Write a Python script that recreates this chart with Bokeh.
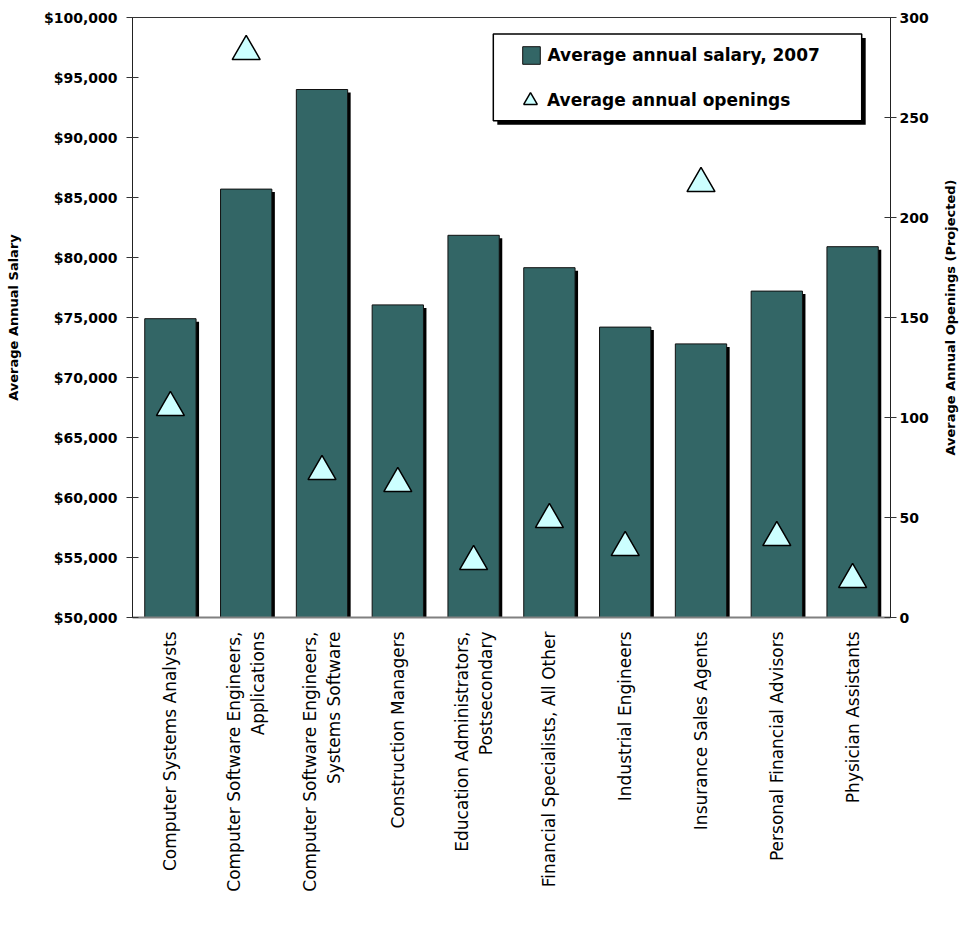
import math
from bokeh.plotting import figure
from bokeh.layouts import row
from bokeh.models import (FactorRange, Range1d, LinearAxis, NumeralTickFormatter,
                          SingleIntervalTicker, ColumnDataSource, Legend, LegendItem,
                          BoxAnnotation)
from bokeh.core.properties import value
from bokeh.transform import dodge
from bokeh.embed import file_html
from bokeh.resources import INLINE

# ---------------- data ----------------
occupations = [
    "Computer Systems Analysts",
    "Computer Software Engineers,\nApplications",
    "Computer Software Engineers,\nSystems Software",
    "Construction Managers",
    "Education Administrators,\nPostsecondary",
    "Financial Specialists, All Other",
    "Industrial Engineers",
    "Insurance Sales Agents",
    "Personal Financial Advisors",
    "Physician Assistants",
]
salary_2007 = [74900, 85700, 94000, 76050, 81850, 79150, 74200, 72800, 77200, 80900]
annual_openings = [105, 283, 73, 67, 28, 49, 35, 217, 40, 19]

salary_ticks_step = 5000
openings_ticks_step = 50
left_title = "Average Annual Salary"
right_title = "Average Annual Openings (Projected)"

# ---------------- styling ----------------
BAR_COLOR = "#336666"
TRI_COLOR = "#CCFFFF"
FONT = "DejaVu Sans"
SHADOW_PX = 3
FRAME_W = 758
BAR_WIDTH = 0.677
MAIN_W, SIDE_W, H = 939, 27, 927
TOP, BOTTOM = 17, 310

src = ColumnDataSource(dict(
    occ=occupations,
    salary=salary_2007,
    shadow_top=[s - SHADOW_PX * 50000 / 600 for s in salary_2007],
    openings=annual_openings,
))

p = figure(
    x_range=FactorRange(factors=occupations, range_padding=0),
    y_range=Range1d(50000, 100000),
    width=MAIN_W, height=H,
    output_backend="svg", toolbar_location=None,
    min_border_left=132, min_border_right=49, min_border_top=TOP, min_border_bottom=BOTTOM,
)
p.extra_y_ranges = {"open": Range1d(0, 300)}
p.background_fill_color = "white"
p.border_fill_color = "white"
p.outline_line_color = "#333333"
p.outline_line_width = 1
p.xgrid.visible = False
p.ygrid.visible = False

# bar shadows
p.vbar(x=dodge("occ", SHADOW_PX / (FRAME_W / 10), range=p.x_range), top="shadow_top",
       bottom=50000, width=BAR_WIDTH, source=src, fill_color="black", line_color=None)
# bars
bars = p.vbar(x="occ", top="salary", bottom=50000, width=BAR_WIDTH, source=src,
              fill_color=BAR_COLOR, line_color="#111111", line_width=1)
# triangles
tris = p.scatter(x="occ", y="openings", source=src, y_range_name="open", marker="triangle",
                 size=28, fill_color=TRI_COLOR, line_color="black", line_width=1.5)

# ---------------- axes ----------------
ya = p.yaxis[0]
ya.ticker = SingleIntervalTicker(interval=salary_ticks_step, num_minor_ticks=0)
ya.formatter = NumeralTickFormatter(format="$0,0")
ya.axis_label = left_title

ra = LinearAxis(y_range_name="open",
                ticker=SingleIntervalTicker(interval=openings_ticks_step, num_minor_ticks=0))
p.add_layout(ra, "right")

for ax, st, lst in ((ya, 9, 20), (ra, 3, 13)):
    ax.major_label_text_font = FONT
    ax.major_label_text_font_style = "bold"
    ax.major_label_text_font_size = "14px"
    ax.major_label_text_color = "black"
    ax.major_label_standoff = st
    ax.axis_label_text_font = FONT
    ax.axis_label_text_font_style = "bold"
    ax.axis_label_text_font_size = "13px"
    ax.axis_label_text_color = "black"
    ax.axis_label_standoff = lst
    ax.major_tick_in = 6
    ax.major_tick_out = 6
    ax.major_tick_line_color = "#333333"
    ax.minor_tick_line_color = None
    ax.axis_line_color = "#222222"
    ax.axis_line_width = 1

xa = p.xaxis[0]
xa.major_label_orientation = math.pi / 2
xa.major_label_text_font = FONT
xa.major_label_text_font_size = "17px"
xa.major_label_text_color = "black"
xa.major_label_standoff = 14
xa.major_tick_line_color = None
xa.major_tick_out = 0
xa.major_tick_in = 0
xa.axis_line_color = "#808080"
xa.axis_line_width = 2

# ---------------- legend ----------------
box_l, box_r = 4.76, 9.62
box_t, box_b = 98617, 91392
dx = 4 / (FRAME_W / 10)
dy = 4 * 50000 / 600
p.add_layout(BoxAnnotation(left=box_l + dx, right=box_r + dx, top=box_t - dy, bottom=box_b - dy,
                           fill_color="black", fill_alpha=1, line_color=None))
p.add_layout(BoxAnnotation(left=box_l, right=box_r, top=box_t, bottom=box_b,
                           fill_color="white", fill_alpha=1, line_color="black",
                           line_width=1.5, line_alpha=1))

def make_legend(item, glyph, x, y, standoff):
    return Legend(items=[item], location=(x, y), glyph_width=glyph, glyph_height=glyph,
                  padding=0, margin=0, label_standoff=standoff,
                  background_fill_alpha=0, border_line_alpha=0,
                  label_text_font=FONT, label_text_font_style="bold",
                  label_text_font_size="17px", label_text_color="black")

leg_a = make_legend(LegendItem(label="Average annual salary, 2007", renderers=[bars]),
                    22, 387.5, 550.7, 6)
leg_b = make_legend(LegendItem(label="Average annual openings", renderers=[tris]),
                    34, 381, 499.7, 0)
p.add_layout(leg_a, "center")
p.add_layout(leg_b, "center")

# ---------------- right-hand title strip (reads bottom-to-top) ----------------
side = figure(
    width=SIDE_W, height=H, x_range=Range1d(0, 1), y_range=p.y_range,
    output_backend="svg", toolbar_location=None,
    x_axis_location=None, y_axis_location=None,
    min_border_left=0, min_border_right=0, min_border_top=TOP, min_border_bottom=BOTTOM,
)
side.outline_line_color = None
side.background_fill_color = "white"
side.border_fill_color = "white"
side.xgrid.visible = False
side.ygrid.visible = False
side.text(x=[0.42], y=[(p.y_range.start + p.y_range.end) / 2], text=[right_title],
          angle=math.pi / 2, text_align="center", text_baseline="middle",
          text_font=value(FONT), text_font_style="bold", text_font_size="13px",
          text_color="black")

layout = row(p, side)
open("out.html", "w").write(file_html(layout, INLINE))
